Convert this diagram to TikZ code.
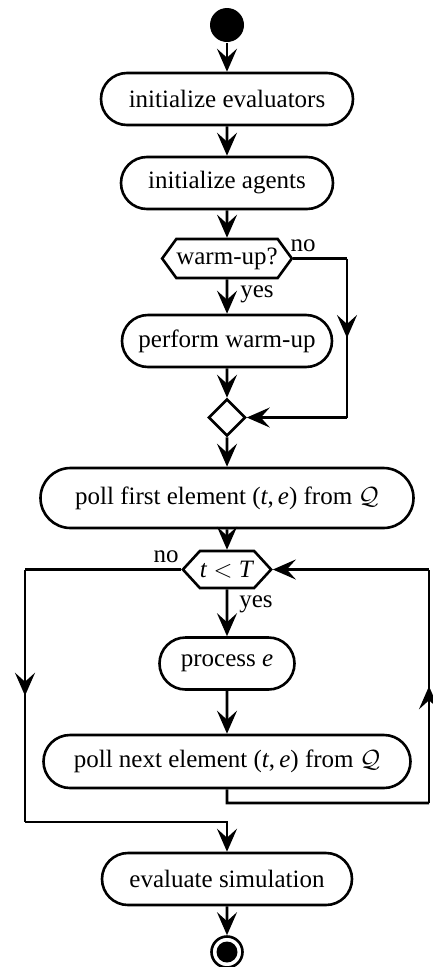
\documentclass[tikz,border=0pt]{standalone}
\usepackage{amsmath}
\usepackage{fontspec}
\setmainfont{Liberation Serif}
\usetikzlibrary{arrows.meta,shapes.geometric,shapes.misc,shapes.symbols,decorations.markings}

\begin{document}
\begin{tikzpicture}[x=1pt,y=-1pt,line width=2.6pt,
    >={Stealth[length=23pt,width=20pt,inset=9pt]},
    font=\fontsize{25}{30}\selectfont,
    action/.style={rounded rectangle,draw,minimum height=52pt,inner sep=0pt},
    test/.style={signal,signal to=east and west,signal pointer angle=108,draw,minimum height=39pt,inner sep=0pt},
    merge/.style={diamond,draw,aspect=1,minimum width=37pt,minimum height=37pt,inner sep=0pt},
    start node/.style={circle,fill,minimum size=34pt,inner sep=0pt},
    stop node/.style={circle,draw,minimum size=31pt,inner sep=0pt,
      path picture={\fill (path picture bounding box.center) circle (10.5pt);}},
    midarrow/.style={postaction={decorate},decoration={markings,mark=at position 0.5 with {\arrow{>}}}}]
  \useasboundingbox (0,0) rectangle (432,967);

  \node[start node]                     (start)   at (227,25)    {};
  \node[action,minimum width=252pt]     (evals)   at (227,99)    {initialize evaluators};
  \node[action,minimum width=212pt]     (agents)  at (227,183)   {initialize agents};
  \node[test,minimum width=125pt]       (warm)    at (227,258.5) {warm-up?};
  \node[action,minimum width=210pt]     (perform) at (227,341)   {perform warm-up};
  \node[merge]                          (join)    at (227,417.5) {};
  \node[action,minimum width=373pt,minimum height=60pt] (first) at (227,498)
        {poll first element (\textit{t},\,\textit{e}) from $\mathcal{Q}$};
  \node[test,signal pointer angle=95,minimum width=87pt,minimum height=37pt] (loop) at (227,569.5)
        {\textit{t} $<$ \textit{T}};
  \node[action,minimum width=135pt]     (process) at (227,663.5) {process \textit{e}};
  \node[action,minimum width=367pt,minimum height=53pt] (next) at (227,761.5)
        {poll next element (\textit{t},\,\textit{e}) from $\mathcal{Q}$};
  \node[action,minimum width=250pt]     (evalsim) at (227,879)   {evaluate simulation};
  \node[stop node]                      (stop)    at (227,952)   {};

  % branch labels
  \node[anchor=base] (nowarm)  at (303,251) {no};
  \node[anchor=base] (yeswarm) at (257,297) {yes};
  \node[anchor=base] (noloop)  at (166,562) {no};
  \node[anchor=base] (yesloop) at (256,607) {yes};

  \path[->] (start) edge (evals)
        (evals) edge (agents)
        (agents) edge (warm)
        (warm) edge (perform)
        (perform) edge (join)
        (join) edge (first)
        (first) edge (loop)
        (loop) edge (process)
        (process) edge (next)
        (evalsim) edge (stop)
        ;

  % skip warm-up
  \coordinate (skipA) at (347,258.5);
  \coordinate (skipB) at (347,417.5);
  \draw (warm.east) -- (skipA);
  \draw[midarrow] (skipA) -- (skipB);
  \draw[->] (skipB) -- (join.east);

  % leave loop
  \coordinate (exitA) at (25,569.5);
  \coordinate (exitB) at (25,822);
  \coordinate (exitC) at (227,822);
  \draw (loop.west) -- (exitA);
  \draw[midarrow] (exitA) -- (exitB);
  \draw[->] (exitB) -- (exitC) -- (evalsim);

  % back to test
  \coordinate (backA) at (227,803);
  \coordinate (backB) at (429,803);
  \coordinate (backC) at (429,569.5);
  \draw (next) -- (backA) -- (backB);
  \draw[midarrow] (backB) -- (backC);
  \draw[->] (backC) -- (loop.east);
\end{tikzpicture}
\end{document}
